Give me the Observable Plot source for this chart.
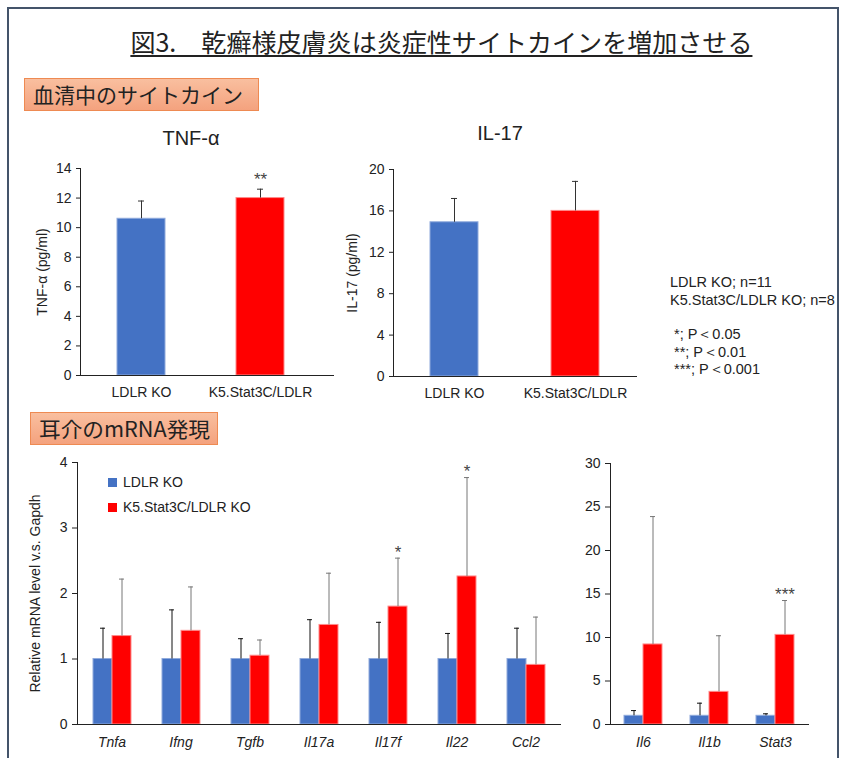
<!DOCTYPE html>
<html><head><meta charset="utf-8">
<script src="https://cdn.jsdelivr.net/npm/d3@7"></script>
<script src="https://cdn.jsdelivr.net/npm/@observablehq/plot@0.6"></script>
<style>
html,body{margin:0;padding:0;background:#fff;}
body{position:relative;width:843px;height:758px;overflow:hidden;font-family:"Liberation Sans",Arial,sans-serif;color:#222;}
#frame{position:absolute;left:7px;top:7px;width:828px;height:800px;border:2px solid #44546a;}
.abs{position:absolute;}
#title{left:100px;width:682px;top:24px;text-align:center;font-family:"Noto Sans CJK JP",sans-serif;font-size:25px;line-height:34px;color:#222;}
#title span{display:inline-block;text-decoration:underline;text-decoration-thickness:1.5px;text-underline-offset:3px;transform-origin:center;white-space:nowrap;}
.sec{background:linear-gradient(#f9bf9f,#f4a27e);border:1px solid #ee8a52;box-sizing:border-box;}
.sec span{position:absolute;left:8px;top:0px;font-family:"Noto Sans CJK JP",sans-serif;font-size:21px;line-height:31px;white-space:nowrap;transform-origin:left center;color:#222;}
.ctitle{font-size:20px;line-height:24px;text-align:center;width:120px;}
.note{font-size:14.5px;line-height:17.5px;white-space:nowrap;}
.leg{font-size:14px;line-height:18px;white-space:nowrap;}
.sw{display:inline-block;width:9px;height:9px;margin-right:6px;vertical-align:0px;}
svg{position:absolute;overflow:visible;}
</style></head>
<body>
<div id="frame"></div>
<div id="title" class="abs"><span data-w="622">図3.　乾癬様皮膚炎は炎症性サイトカインを増加させる</span></div>
<div class="abs sec" style="left:24px;top:78px;width:235px;height:33px;"><span data-w="210">血清中のサイトカイン</span></div>
<div class="abs sec" style="left:30px;top:412px;width:188px;height:33px;"><span data-w="171">耳介のmRNA発現</span></div>
<div class="abs ctitle" style="left:131px;top:126px;">TNF-α</div>
<div class="abs ctitle" style="left:440px;top:121px;">IL-17</div>
<div class="abs note" style="left:670px;top:274px;">LDLR KO; n=11<br>K5.Stat3C/LDLR KO; n=8</div>
<div class="abs note" style="left:674px;top:326px;line-height:17.5px;">*; P＜0.05<br>**; P＜0.01<br>***; P＜0.001</div>
<div id="c1"></div><div id="c2"></div><div id="c3"></div><div id="c4"></div>
<div class="abs leg" style="left:108px;top:473px;"><span class="sw" style="background:#4472c4"></span>LDLR KO</div>
<div class="abs leg" style="left:108px;top:498px;"><span class="sw" style="background:#ff0000"></span>K5.Stat3C/LDLR KO</div>
<script>
// ---- data ----
const groups = ["LDLR KO", "K5.Stat3C/LDLR"];
const tnfMean = [10.6, 12.0];
const tnfErr = [1.2, 0.6];
const tnfSig = ["", "**"];
const il17Mean = [14.9, 16.0];
const il17Err = [2.3, 2.85];
const il17Sig = ["", ""];
const tnfTicks = [0, 2, 4, 6, 8, 10, 12, 14];
const il17Ticks = [0, 4, 8, 12, 16, 20];

const seriesNames = ["LDLR KO", "K5.Stat3C/LDLR KO"];
const genesA = ["Tnfa", "Ifng", "Tgfb", "Il17a", "Il17f", "Il22", "Ccl2"];
const koMeanA = [1, 1, 1, 1, 1, 1, 1];
const koErrA = [0.47, 0.75, 0.31, 0.60, 0.56, 0.39, 0.47];
const tgMeanA = [1.35, 1.43, 1.05, 1.52, 1.80, 2.26, 0.91];
const tgErrA = [0.87, 0.67, 0.24, 0.79, 0.74, 1.51, 0.73];
const sigA = ["", "", "", "", "*", "*", ""];
const ticksA = [0, 1, 2, 3, 4];

const genesB = ["Il6", "Il1b", "Stat3"];
const koMeanB = [1, 1, 1];
const koErrB = [0.6, 1.45, 0.23];
const tgMeanB = [9.2, 3.75, 10.3];
const tgErrB = [14.7, 6.45, 3.95];
const sigB = ["", "", "***"];
const ticksB = [0, 5, 10, 15, 20, 25, 30];

const fills = ["#4472c4", "#ff0000"];
const edges = ["#8faadc", "#ff8a8a"];

const baseStyle = {fontFamily: "Liberation Sans, Arial, sans-serif", fontSize: "14px", color: "#222", background: "transparent", overflow: "visible"};

function place(el, left, top) { el.style.left = left + "px"; el.style.top = top + "px"; return el; }

function topChart(o) {
  const rows = groups.map((g, i) => ({group: g, mean: o.means[i], top: o.means[i] + o.errs[i], sig: o.sig[i], idx: i}));
  return Plot.plot({
    width: o.width, height: o.height,
    marginLeft: o.ml, marginRight: o.mr, marginTop: o.mt, marginBottom: o.mb,
    style: baseStyle,
    x: {domain: groups, paddingInner: o.pi, paddingOuter: o.po, align: o.align},
    y: {domain: o.domain},
    marks: [
      Plot.barY(rows, {x: "group", y: "mean", fill: d => fills[d.idx], stroke: d => edges[d.idx], strokeWidth: 1}),
      Plot.ruleX(rows, {x: "group", y1: "mean", y2: "top", stroke: "#333", strokeWidth: 1}),
      Plot.tickY(rows, {x: "group", y: "top", stroke: "#333", insetLeft: o.cap, insetRight: o.cap}),
      Plot.text(rows, {x: "group", y: "top", text: "sig", dy: -10, fontSize: 17, fill: "#444"}),
      Plot.frame({anchor: "bottom", stroke: "#222"}),
      Plot.frame({anchor: "left", stroke: "#222"}),
      Plot.axisY({ticks: o.ticks, tickSize: 4, tickPadding: 5, label: o.label, labelAnchor: "center", labelArrow: "none", labelOffset: o.lo, fontSize: 14}),
      Plot.axisX({tickSize: 0, tickPadding: 12, label: null, fontSize: 14})
    ]
  });
}

function mrnaChart(o) {
  const rows = o.genes.flatMap((g, i) => [
    {gene: g, series: seriesNames[0], mean: o.koM[i], top: o.koM[i] + o.koE[i], sig: "", idx: 0},
    {gene: g, series: seriesNames[1], mean: o.tgM[i], top: o.tgM[i] + o.tgE[i], sig: o.sig[i], idx: 1}
  ]);
  return Plot.plot({
    width: o.width, height: o.height,
    marginLeft: o.ml, marginRight: o.mr, marginTop: o.mt, marginBottom: o.mb,
    style: baseStyle,
    fx: {domain: o.genes, padding: 0, axis: null},
    x: {domain: seriesNames, paddingInner: 0, paddingOuter: o.po, axis: null},
    y: {domain: o.domain, axis: null},
    marks: [
      Plot.barY(rows, {fx: "gene", x: "series", y: "mean", fill: d => fills[d.idx], stroke: d => edges[d.idx], strokeWidth: 1}),
      Plot.ruleX(rows, {fx: "gene", x: "series", y1: "mean", y2: "top", stroke: d => d.idx ? "#777" : "#111", strokeWidth: 1}),
      Plot.tickY(rows, {fx: "gene", x: "series", y: "top", stroke: d => d.idx ? "#777" : "#111", insetLeft: 7, insetRight: 7}),
      Plot.text(rows, {fx: "gene", x: "series", y: "top", text: "sig", dy: -6, fontSize: 17, fill: "#444"}),
      Plot.frame({anchor: "bottom", facet: "super", stroke: "#222"}),
      Plot.frame({anchor: "left", facet: "super", stroke: "#222"}),
      Plot.axisY({ticks: o.ticks, tickFormat: d => String(d), tickSize: 5, tickPadding: 5, label: o.label, labelAnchor: "center", labelArrow: "none", labelOffset: o.lo, fontSize: 14, facetAnchor: "left"}),
      Plot.axisFx({anchor: "bottom", tickSize: 0, tickPadding: 13, label: null, fontStyle: "italic", fontSize: 14})
    ]
  });
}

const c1 = topChart({means: tnfMean, errs: tnfErr, sig: tnfSig, domain: [0, 14], ticks: tnfTicks, label: "TNF-α (pg/ml)",
  width: 320, height: 260, ml: 60, mr: 7, mt: 18, mb: 35, pi: 0.6, po: 0.36, align: 0.43, cap: 21, lo: 43});
document.getElementById("c1").appendChild(place(c1, 20, 150));

const c2 = topChart({means: il17Mean, errs: il17Err, sig: il17Sig, domain: [0, 20], ticks: il17Ticks, label: "IL-17 (pg/ml)",
  width: 320, height: 260, ml: 63, mr: 14, mt: 19, mb: 34, pi: 0.6, po: 0.3, align: 0.5, cap: 21, lo: 46});
document.getElementById("c2").appendChild(place(c2, 330, 150));

const c3 = mrnaChart({genes: genesA, koM: koMeanA, koE: koErrA, tgM: tgMeanA, tgE: tgErrA, sig: sigA, domain: [0, 4], ticks: ticksA,
  label: "Relative mRNA level v.s. Gapdh", width: 560, height: 308, ml: 54, mr: 17, mt: 12, mb: 34, po: 0.747, lo: 47});
document.getElementById("c3").appendChild(place(c3, 20, 450));

const c4 = mrnaChart({genes: genesB, koM: koMeanB, koE: koErrB, tgM: tgMeanB, tgE: tgErrB, sig: sigB, domain: [0, 30], ticks: ticksB,
  label: null, width: 250, height: 308, ml: 29, mr: 21, mt: 13, mb: 34, po: 0.667, lo: 30});
document.getElementById("c4").appendChild(place(c4, 580, 450));

// fit the Japanese labels to the reference widths
document.querySelectorAll("[data-w]").forEach(el => {
  const w = el.getBoundingClientRect().width;
  el.style.transform = `scaleX(${(+el.dataset.w / w).toFixed(3)})`;
});
</script>
</body></html>
